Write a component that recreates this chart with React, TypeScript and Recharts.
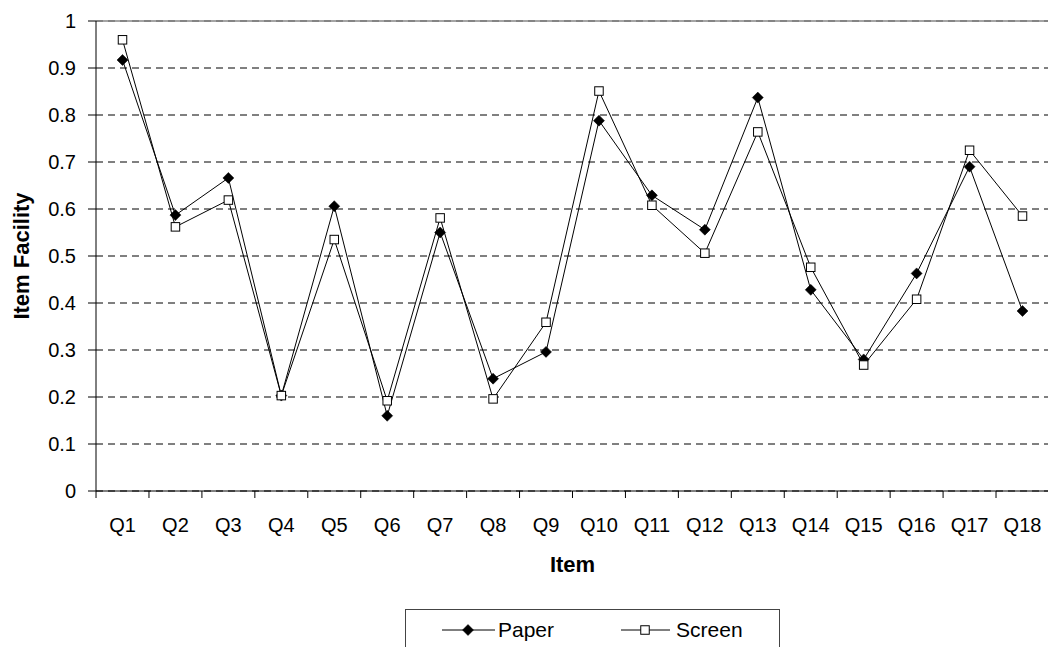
import { LineChart, Line, XAxis, YAxis, CartesianGrid, ReferenceLine, Legend } from "recharts";

const items = ["Q1", "Q2", "Q3", "Q4", "Q5", "Q6", "Q7", "Q8", "Q9", "Q10", "Q11", "Q12", "Q13", "Q14", "Q15", "Q16", "Q17", "Q18"];
const paper = [0.917, 0.587, 0.666, 0.203, 0.606, 0.16, 0.55, 0.239, 0.296, 0.788, 0.629, 0.556, 0.837, 0.428, 0.28, 0.463, 0.69, 0.383];
const screen = [0.96, 0.562, 0.619, 0.203, 0.535, 0.192, 0.581, 0.196, 0.359, 0.851, 0.608, 0.506, 0.764, 0.476, 0.268, 0.408, 0.725, 0.585];
const yTicks = [0, 0.1, 0.2, 0.3, 0.4, 0.5, 0.6, 0.7, 0.8, 0.9, 1];

const data = items.map((item, i) => ({ item, Paper: paper[i], Screen: screen[i] }));

const font = "'Liberation Sans', Arial, sans-serif";

const Diamond = (props: any) => {
  const { cx, cy } = props;
  if (cx == null || cy == null) return null;
  const r = 5.5;
  return <polygon points={`${cx},${cy - r} ${cx + r},${cy} ${cx},${cy + r} ${cx - r},${cy}`} fill="#000" stroke="#000" strokeWidth={0.5} />;
};

const Square = (props: any) => {
  const { cx, cy } = props;
  if (cx == null || cy == null) return null;
  const s = 8.5;
  return <rect x={cx - s / 2} y={cy - s / 2} width={s} height={s} fill="#fff" stroke="#000" strokeWidth={1} />;
};

// category labels, with Excel-style tick marks between the categories
const ItemTick = (props: any) => {
  const { x, y, payload, index, width } = props;
  const half = width / (2 * items.length);
  return (
    <g>
      <line x1={x - half} y1={y} x2={x - half} y2={y + 7} stroke="#000" />
      {index === items.length - 1 && <line x1={x + half} y1={y} x2={x + half} y2={y + 7} stroke="#000" />}
      <text x={x} y={y + 41} textAnchor="middle" fontSize={20} fill="#000" fontFamily={font}>
        {payload.value}
      </text>
    </g>
  );
};

const renderLegend = () => (
  <div
    style={{
      boxSizing: "border-box",
      width: 375,
      height: 60,
      border: "1px solid #444",
      background: "#fff",
      display: "flex",
      alignItems: "flex-start",
      paddingTop: 8,
      paddingLeft: 36,
      fontFamily: font,
      fontSize: 21,
      color: "#000",
    }}
  >
    <svg width={54} height={22} style={{ marginTop: 1 }}>
      <line x1={0} y1={11} x2={53} y2={11} stroke="#000" />
      <Diamond cx={26} cy={11} />
    </svg>
    <span style={{ marginLeft: 2, lineHeight: "24px" }}>Paper</span>
    <svg width={50} height={22} style={{ marginLeft: 67, marginTop: 1 }}>
      <line x1={0} y1={11} x2={49} y2={11} stroke="#000" />
      <Square cx={24} cy={11} />
    </svg>
    <span style={{ marginLeft: 5, lineHeight: "24px" }}>Screen</span>
  </div>
);

export default function App() {
  return (
    <div style={{ position: "absolute", left: 0, top: 0, width: 1048, height: 647, overflow: "hidden", background: "#fff", fontFamily: font }}>
      <LineChart width={1050} height={647} data={data} margin={{ top: 21, right: 1, left: 0, bottom: 0 }}>
        <CartesianGrid vertical={false} stroke="#000" strokeDasharray="7 5" />
        <ReferenceLine y={1} stroke="#868686" strokeWidth={1.5} />
        <XAxis
          dataKey="item"
          height={156}
          padding={{ left: 26.5, right: 26.5 }}
          tickSize={0}
          tickMargin={0}
          tickLine={false}
          interval={0}
          axisLine={{ stroke: "#000" }}
          tick={<ItemTick />}
          label={{ value: "Item", position: "insideTop", offset: 65, fontSize: 22, fontWeight: "bold", fill: "#000", fontFamily: font }}
        />
        <YAxis
          width={96}
          domain={[0, 1]}
          ticks={yTicks}
          interval={0}
          tickSize={8}
          tickMargin={12}
          stroke="#000"
          tick={{ fontSize: 20, fill: "#000", fontFamily: font }}
          label={{ value: "Item Facility", angle: -90, position: "insideLeft", offset: 21, fontSize: 22, fontWeight: "bold", fill: "#000", fontFamily: font, style: { textAnchor: "middle" } }}
        />
        <Legend layout="horizontal" verticalAlign="middle" align="center" content={renderLegend} wrapperStyle={{ left: 405, top: 609, width: 375 }} />
        <Line type="linear" dataKey="Paper" stroke="#000" strokeWidth={1} dot={<Diamond />} activeDot={false} isAnimationActive={false} />
        <Line type="linear" dataKey="Screen" stroke="#000" strokeWidth={1} dot={<Square />} activeDot={false} isAnimationActive={false} />
      </LineChart>
    </div>
  );
}
